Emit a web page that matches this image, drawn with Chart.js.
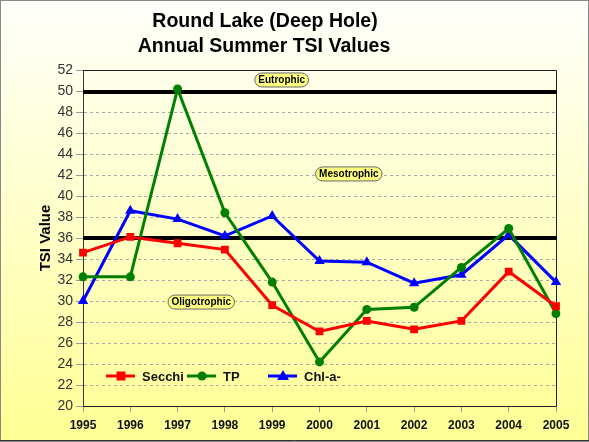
<!DOCTYPE html>
<html>
<head>
<meta charset="utf-8">
<script src="https://cdn.jsdelivr.net/npm/chart.js@4/dist/chart.umd.min.js"></script>
<style>
  html, body { margin: 0; padding: 0; background: #fff; }
  #wrap { width: 589px; height: 442px; position: relative; }
</style>
</head>
<body>
<div id="wrap"><canvas id="tsiChart" width="589" height="442"></canvas></div>
<script>
const years = ['1995', '1996', '1997', '1998', '1999', '2000', '2001', '2002', '2003', '2004', '2005'];
const secchi = [34.6, 36.1, 35.5, 34.9, 29.6, 27.1, 28.1, 27.3, 28.1, 32.8, 29.5];
const tp = [32.3, 32.3, 50.2, 38.4, 31.8, 24.2, 29.2, 29.4, 33.2, 36.9, 28.8];
const chla = [30.0, 38.6, 37.8, 36.2, 38.1, 33.8, 33.7, 31.7, 32.5, 36.3, 31.8];
const thresholds = [49.9, 36.0];
const zoneLabels = ['Eutrophic', 'Mesotrophic', 'Oligotrophic'];
const zoneSpots = [[4.2, 51.05], [5.62, 42.1], [2.5, 29.9]];
const titleLines = ['Round Lake (Deep Hole)', 'Annual Summer TSI Values'];

const FONT = 'Arial, "Liberation Sans", Helvetica, sans-serif';

const decor = {
    id: 'decor',
    beforeDraw(chart) {
        const { ctx, width, height } = chart;
        ctx.save();
        const g = ctx.createLinearGradient(0, 0, 0, height);
        g.addColorStop(0, '#fffffc');
        g.addColorStop(1, '#ffff94');
        ctx.fillStyle = g;
        ctx.fillRect(0, 0, width, height);
        ctx.fillStyle = '#000';
        ctx.font = `bold 19.5px ${FONT}`;
        ctx.textAlign = 'center';
        ctx.textBaseline = 'middle';
        ctx.fillText(titleLines[0], 265, 22);
        ctx.fillText(titleLines[1], 264, 47);
        ctx.restore();
    },
    beforeDatasetsDraw(chart) {
        const { ctx, chartArea: a, scales: { x, y } } = chart;
        ctx.save();
        // frame top and right
        ctx.strokeStyle = '#222';
        ctx.lineWidth = 1;
        ctx.beginPath();
        ctx.moveTo(a.left, a.top + 0.5);
        ctx.lineTo(a.right + 0.5, a.top + 0.5);
        ctx.lineTo(a.right + 0.5, a.bottom);
        ctx.stroke();
        // trophic boundaries
        ctx.strokeStyle = '#000';
        ctx.lineWidth = 4;
        thresholds.forEach(v => {
            const py = y.getPixelForValue(v);
            ctx.beginPath();
            ctx.moveTo(a.left, py);
            ctx.lineTo(a.right + 1, py);
            ctx.stroke();
        });
        // zone pills
        ctx.font = `bold 10px ${FONT}`;
        ctx.textAlign = 'center';
        ctx.textBaseline = 'middle';
        zoneLabels.forEach((label, i) => {
            const cx = x.getPixelForValue(zoneSpots[i][0]);
            const cy = y.getPixelForValue(zoneSpots[i][1]);
            const w = ctx.measureText(label).width + 7;
            const h = 14;
            const r = h / 2;
            ctx.beginPath();
            ctx.moveTo(cx - w / 2 + r, cy - r);
            ctx.lineTo(cx + w / 2 - r, cy - r);
            ctx.arc(cx + w / 2 - r, cy, r, -Math.PI / 2, Math.PI / 2);
            ctx.lineTo(cx - w / 2 + r, cy + r);
            ctx.arc(cx - w / 2 + r, cy, r, Math.PI / 2, Math.PI * 1.5);
            ctx.closePath();
            ctx.fillStyle = '#ffff80';
            ctx.fill();
            ctx.strokeStyle = '#666';
            ctx.lineWidth = 1;
            ctx.stroke();
            ctx.fillStyle = '#000';
            ctx.fillText(label, cx, cy + 0.5);
        });
        ctx.restore();
    },
    afterDraw(chart) {
        const { ctx, chartArea: a, width, height } = chart;
        ctx.save();
        // legend inside plot
        const ly = a.top + 306;
        let lx = a.left + 23;
        ctx.font = `bold 13px ${FONT}`;
        ctx.textBaseline = 'middle';
        ctx.textAlign = 'left';
        chart.data.datasets.forEach(ds => {
            ctx.strokeStyle = ds.borderColor;
            ctx.fillStyle = ds.borderColor;
            ctx.lineWidth = 3;
            ctx.beginPath();
            ctx.moveTo(lx, ly);
            ctx.lineTo(lx + 29, ly);
            ctx.stroke();
            const mx = lx + 15;
            ctx.beginPath();
            if (ds.pointStyle === 'rect') {
                ctx.rect(mx - 4.5, ly - 4.5, 9, 9);
            } else if (ds.pointStyle === 'circle') {
                ctx.arc(mx, ly, 4.5, 0, Math.PI * 2);
            } else {
                ctx.moveTo(mx, ly - 6);
                ctx.lineTo(mx + 6, ly + 4);
                ctx.lineTo(mx - 6, ly + 4);
                ctx.closePath();
            }
            ctx.fill();
            ctx.fillStyle = '#111';
            ctx.fillText(ds.label, lx + 36, ly + 1);
            lx += 81;
        });
        // outer border
        ctx.strokeStyle = '#888';
        ctx.lineWidth = 1;
        ctx.strokeRect(0.5, 0.5, width - 1, height - 1);
        ctx.strokeStyle = '#333';
        ctx.beginPath();
        ctx.moveTo(0, height - 1.5);
        ctx.lineTo(width, height - 1.5);
        ctx.stroke();
        ctx.restore();
    }
};

new Chart(document.getElementById('tsiChart'), {
    type: 'line',
    data: {
        labels: years,
        datasets: [
            { label: 'Secchi', data: secchi, borderColor: '#ff0000', backgroundColor: '#ff0000', pointStyle: 'rect', pointRadius: 5.5 },
            { label: 'TP', data: tp, borderColor: '#008000', backgroundColor: '#008000', pointStyle: 'circle', pointRadius: 4.5 },
            { label: 'Chl-a-', data: chla, borderColor: '#0000ff', backgroundColor: '#0000ff', pointStyle: 'triangle', pointRadius: 6 }
        ]
    },
    options: {
        responsive: false,
        animation: false,
        events: [],
        layout: { padding: { top: 70, right: 33, left: 0, bottom: 0 } },
        elements: {
            line: { borderWidth: 3, tension: 0 },
            point: { borderWidth: 0 }
        },
        plugins: { legend: { display: false }, tooltip: { enabled: false } },
        scales: {
            x: {
                afterFit: s => { s.height = 36; },
                grid: { drawOnChartArea: false, color: '#999', tickLength: 6 },
                border: { color: '#222', width: 1 },
                ticks: { color: '#111', font: { family: FONT, size: 12, weight: 'bold' }, padding: 6, maxRotation: 0, autoSkip: false }
            },
            y: {
                min: 20,
                max: 52,
                afterFit: s => { s.width = 83; },
                ticks: { stepSize: 2, color: '#333', font: { family: FONT, size: 14 }, padding: 3 },
                grid: { color: '#aaa', tickLength: 7, tickColor: '#999', tickBorderDash: [] },
                border: { color: '#333', width: 1, dash: [3, 3] },
                title: { display: true, text: 'TSI Value', color: '#000', font: { family: FONT, size: 15, weight: 'bold' }, padding: { top: 37, bottom: 0 } }
            }
        }
    },
    plugins: [decor]
});
</script>
</body>
</html>
